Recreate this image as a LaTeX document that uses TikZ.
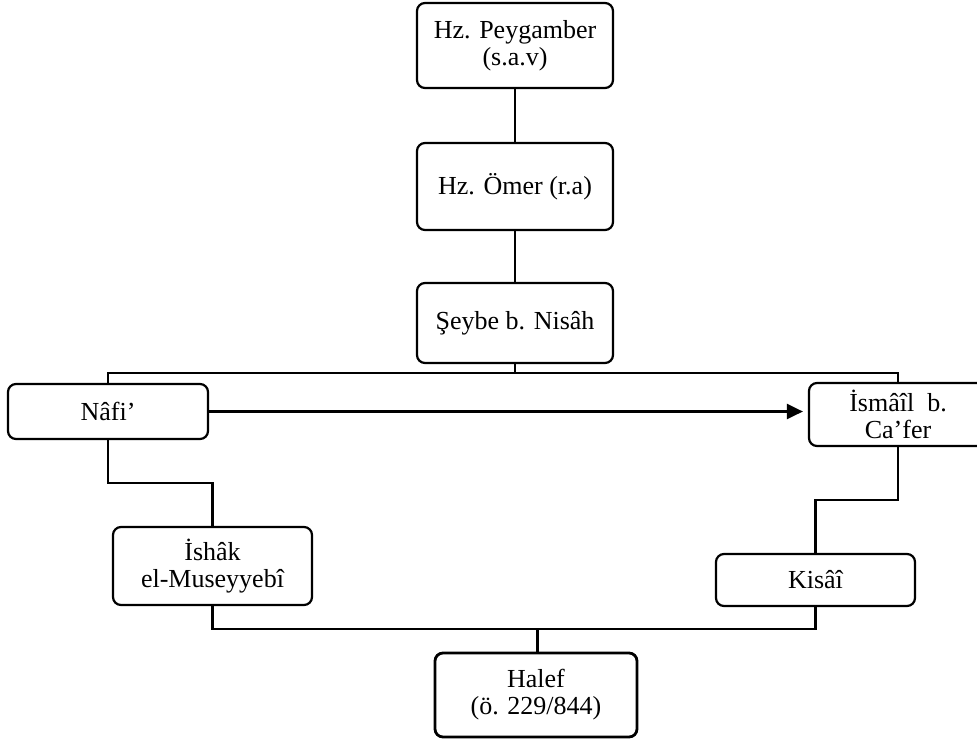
\documentclass[tikz,border=0pt]{standalone}
\usepackage{fontspec}
\setmainfont{Liberation Serif}
\usetikzlibrary{arrows.meta}
\begin{document}
\begin{tikzpicture}[x=1pt,y=-1pt,
  box/.style={draw, line width=2.2pt, rounded corners=8pt, align=center,
    font=\fontsize{26pt}{27pt}\selectfont, inner sep=0pt},
  conn/.style={line width=2.2pt},
  thick conn/.style={line width=3pt}]
\useasboundingbox (0,0) rectangle (977,740);
\node[box, minimum width=196pt, minimum height=85pt] (p) at (515,45.5) {Hz. Peygamber\\(s.a.v)};
\node[box, minimum width=196pt, minimum height=87pt] (o) at (515,186.5) {Hz. Ömer (r.a)};
\node[box, minimum width=196pt, minimum height=80pt] (s) at (515,323) {Şeybe b. Nisâh};
\node[box, minimum width=200pt, minimum height=55pt] (n) at (108,411.5) {Nâfi’};
\node[box, minimum width=178pt, minimum height=63pt] (i) at (898,414.5) {İsmâîl\ \ b.\\Ca’fer};
\node[box, minimum width=199pt, minimum height=78pt] (ish) at (212.5,566) {İshâk\\el-Museyyebî};
\node[box, minimum width=199pt, minimum height=52pt] (k) at (815.5,580) {Kisâî};
\node[box, line width=2.8pt, minimum width=202pt, minimum height=84pt] (h) at (536,695) {Halef\\(ö. 229/844)};
\coordinate (j1) at (515,373);
\coordinate (j2) at (160,483);
\coordinate (j3) at (860,500);
\coordinate (j4) at (537,629);
\draw[conn] (p.south) -- (o.north);
\draw[conn] (o.south) -- (s.north);
\draw[conn] (s.south) -- (j1);
\draw[conn] (n.north) |- (j1) -| (i.north);
\draw[conn, -{Triangle[length=16pt,width=15pt]}] (n.east) -- ([xshift=-5pt]i.west |- n.east);
\draw[conn] (n.south) |- (j2) -| (ish.north);
\draw[conn] (i.south) |- (j3) -| (k.north);
\draw[conn] (ish.south) |- (j4) -| (k.south);
\draw[thick conn] (j4) -- (h.north -| j4);
\end{tikzpicture}
\end{document}
